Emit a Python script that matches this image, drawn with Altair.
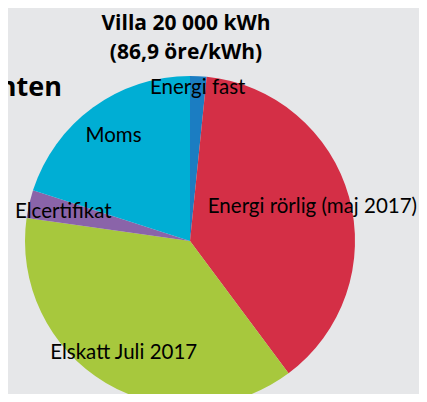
import altair as alt
import pandas as pd

categories = ["Energi fast", "Energi rörlig (maj 2017)", "Elskatt Juli 2017", "Elcertifikat", "Moms"]
values = [1.4, 33.2, 32.5, 2.4, 17.4]  # öre/kWh, total 86,9
colors = ["#1b7dc2", "#d42f46", "#a7c83d", "#8a64a9", "#00aed4"]

title_lines = ["Villa 20 000 kWh", "(86,9 öre/kWh)"]
side_text = ["nten"]

df = pd.DataFrame({"kategori": categories, "varde": values, "ordning": list(range(len(categories)))})

CX, CY, R = 182, 233, 165

pie = alt.Chart(df).mark_arc(radius=R).encode(
    theta=alt.Theta("varde:Q", stack=True),
    order=alt.Order("ordning:Q"),
    x=alt.value(CX),
    y=alt.value(CY),
    color=alt.Color("kategori:N", scale=alt.Scale(domain=categories, range=colors), legend=None),
)

labels = alt.Chart(df).transform_joinaggregate(
    total="sum(varde)"
).transform_window(
    cum="sum(varde)", sort=[alt.SortField("ordning")], frame=[None, 0]
).transform_calculate(
    mid="(datum.cum - datum.varde / 2) / datum.total * 2 * PI",
    lr="datum.kategori == 'Energi fast' ? 153 : (datum.kategori == 'Energi rörlig (maj 2017)' ? 127 : 130)",
).transform_calculate(
    lx=f"{CX} + datum.lr * sin(datum.mid)",
    ly=f"{CY} - datum.lr * cos(datum.mid)",
).mark_text(font="Lato", fontSize=20.5, color="#000000").encode(
    text="kategori:N",
    x=alt.X("lx:Q", scale=None),
    y=alt.Y("ly:Q", scale=None),
)

title_df = pd.DataFrame({"t": title_lines, "i": [0, 1]})
title = alt.Chart(title_df).transform_calculate(ty="16 + datum.i * 29").mark_text(
    font="Open Sans", fontWeight="bold", fontSize=21, color="#000000"
).encode(text="t:N", x=alt.value(178), y=alt.Y("ty:Q", scale=None))

side = alt.Chart(pd.DataFrame({"t": side_text})).mark_text(
    font="Open Sans", fontWeight="bold", fontSize=27, color="#000000", align="right"
).encode(text="t:N", x=alt.value(54), y=alt.value(80))

chart = alt.layer(pie, labels, title, side).properties(
    width=411, height=386, autosize=alt.AutoSizeParams(type="none"), padding=0,
    background="#e6e7e9",
).configure_view(stroke=None)

chart.save("out.html", embed_options={"renderer": "svg", "actions": False})
